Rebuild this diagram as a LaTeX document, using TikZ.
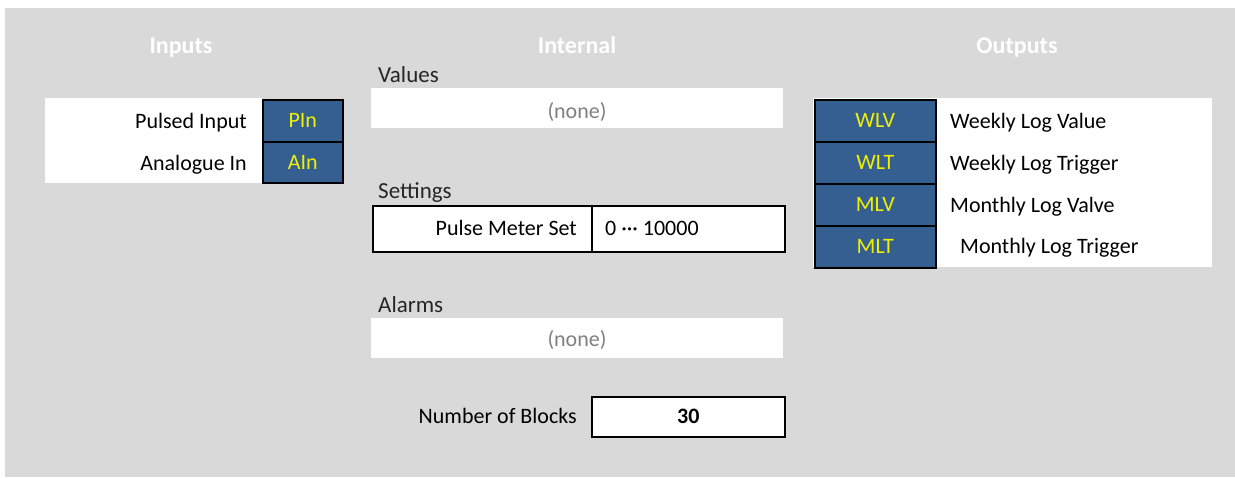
\documentclass[tikz,border=0pt]{standalone}
\usepackage{fontspec}
\setmainfont{Carlito}
\definecolor{bgray}{HTML}{D9D9D9}
\definecolor{boxblue}{RGB}{54,95,145}
\definecolor{yel}{RGB}{240,240,0}
\definecolor{nonegray}{HTML}{808080}
\definecolor{lbltext}{HTML}{262626}
\begin{document}
\begin{tikzpicture}[x=1pt,y=-1pt,
  panel/.style={fill=white, inner sep=0, anchor=north west},
  bluebox/.style={draw=black, line width=1.6pt, fill=boxblue, text=yel, inner sep=0,
    anchor=north west, font=\fontsize{22}{26}\selectfont},
  cellbox/.style={draw=black, line width=1.6pt, fill=white, inner sep=0, anchor=north west,
    font=\fontsize{22}{26}\selectfont\bfseries},
  txt/.style={inner sep=0, font=\fontsize{22}{26}\selectfont},
  lbl/.style={inner sep=0, text=lbltext, font=\fontsize{23}{27}\selectfont, anchor=base west},
  none/.style={inner sep=0, text=nonegray, font=\fontsize{22}{26}\selectfont, anchor=base},
  hdr/.style={inner sep=0, text=white, font=\fontsize{24}{28}\selectfont\bfseries, anchor=base}]
\useasboundingbox (0,0) rectangle (1235,477);
\fill[bgray] (5,8) rectangle (1235,477);

% headers
\node[hdr] (hin) at (181,53) {Inputs};
\node[hdr] (hint) at (577,53) {Internal};
\node[hdr] (hout) at (1017,53) {Outputs};

% inputs
\node[panel, minimum width=217, minimum height=85] (inpanel) at (45,98) {};
\node[bluebox, minimum width=80, minimum height=42] (pin) at (262,99) {PIn};
\node[bluebox, minimum width=80, minimum height=41] (ain) at (262,141) {AIn};
\node[txt, anchor=base east] (pinl) at (247,128) {Pulsed Input};
\node[txt, anchor=base east] (ainl) at (247,170) {Analogue In};

% internal: values
\node[lbl] (vall) at (378,82) {Values};
\node[panel, minimum width=412, minimum height=40] (valbox) at (371,88) {};
\node[none] (valnone) at (577,118) {(none)};

% settings
\node[lbl] (setl) at (378,198) {Settings};
\node[cellbox, minimum width=219, minimum height=46] (setname) at (372,205) {};
\node[cellbox, minimum width=193, minimum height=46] (setval) at (591,205) {};
\node[txt, anchor=base east] (pms) at (577,235) {Pulse Meter Set};
\node[txt, anchor=base west] (range) at (605,235) {0 ··· 10000};

% alarms
\node[lbl] (alml) at (378,312) {Alarms};
\node[panel, minimum width=412, minimum height=40] (almbox) at (371,318) {};
\node[none] (almnone) at (577,346) {(none)};

% number of blocks
\node[txt, anchor=base east] (nbl) at (577,423) {Number of Blocks};
\node[cellbox, minimum width=193, minimum height=40] (nbbox) at (591,396) {30};

% outputs
\node[panel, minimum width=399, minimum height=169] (outpanel) at (813,98) {};
\node[bluebox, minimum width=121, minimum height=42] (wlv) at (814,99) {WLV};
\node[bluebox, minimum width=121, minimum height=42] (wlt) at (814,141) {WLT};
\node[bluebox, minimum width=121, minimum height=42] (mlv) at (814,183) {MLV};
\node[bluebox, minimum width=121, minimum height=42] (mlt) at (814,225) {MLT};
\node[txt, anchor=base west] (wlvl) at (950,128) {Weekly Log Value};
\node[txt, anchor=base west] (wltl) at (950,170) {Weekly Log Trigger};
\node[txt, anchor=base west] (mlvl) at (950,212) {Monthly Log Valve};
\node[txt, anchor=base west] (mltl) at (960,253) {Monthly Log Trigger};
\end{tikzpicture}
\end{document}
